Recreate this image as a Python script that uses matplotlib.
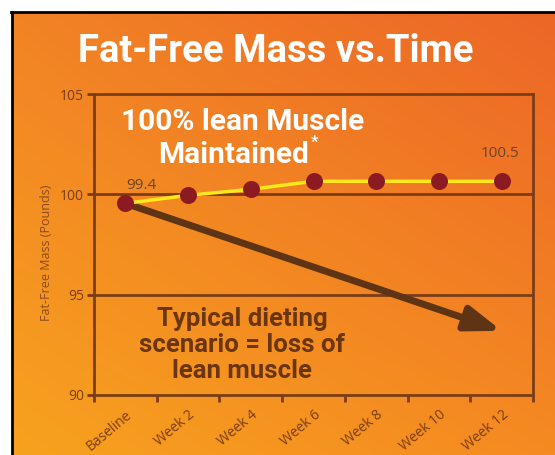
import matplotlib.pyplot as plt
import numpy as np
from matplotlib.lines import Line2D

# chart data
categories = ['Baseline', 'Week 2', 'Week 4', 'Week 6', 'Week 8', 'Week 10', 'Week 12']
lean_mass = [99.55, 99.95, 100.25, 100.65, 100.65, 100.65, 100.65]
label_index = [0, 6]
label_text = ['99.4', '100.5']
diet_start = 99.55
diet_end = 93.2
yticks = [90, 95, 100, 105]

W, H = 555, 455
brown = '#7a3d17'
narrow = ['Roboto', 'DejaVu Sans']
body = ['Open Sans', 'DejaVu Sans']

fig = plt.figure(figsize=(W / 100, H / 100), dpi=100, facecolor='white')

# orange gradient panel
bg = fig.add_axes([12 / W, 0, 1 - 12 / W, 1 - 12 / H])
tl = np.array([0xf2, 0x83, 0x25]) / 255
tr = np.array([0xec, 0x66, 0x27]) / 255
bl = np.array([0xf7, 0xa2, 0x1e]) / 255
br = np.array([0xf5, 0x8a, 0x22]) / 255
u = np.linspace(0, 1, 200)[None, :, None]
v = np.linspace(0, 1, 200)[:, None, None]
img = (1 - v) * ((1 - u) * tl + u * tr) + v * ((1 - u) * bl + u * br)
bg.imshow(img, aspect='auto', extent=[0, 1, 0, 1])
bg.axis('off')
fig.add_artist(Line2D([12 / W, 12 / W], [0, 1 - 12 / H], color='black', lw=2))
fig.add_artist(Line2D([11 / W, 1], [1 - 12 / H, 1 - 12 / H], color='black', lw=2))

ax = fig.add_axes([94 / W, 60 / H, 439 / W, 301 / H])
ax.patch.set_alpha(0)
x = np.arange(len(categories))
ax.set_xlim(-0.5, len(categories) - 0.5)
ax.set_ylim(90, 105)

for s in ax.spines.values():
    s.set_color(brown)
    s.set_linewidth(2)
for yv in yticks[1:-1]:
    ax.axhline(yv, color=brown, lw=2, zorder=1)

ax.set_xticks(x)
ax.set_xticklabels(categories, rotation=40, ha='right', rotation_mode='anchor',
                   fontsize=10, color=brown, family=body)
ax.tick_params(axis='x', which='major', length=0, pad=9)
ax.set_xticks(np.arange(-0.5, len(categories)), minor=True)
ax.tick_params(axis='x', which='minor', length=5, width=2, color=brown)
ax.set_yticks(yticks)
ax.set_yticklabels([str(t) for t in yticks], fontsize=10, color=brown, family=body)
ax.tick_params(axis='y', length=5, width=2, color=brown, pad=2)

# typical dieting arrow
ax.annotate('', xy=(x[-1], diet_end), xytext=(x[0], diet_start),
            arrowprops=dict(arrowstyle='-|>,head_length=1.4,head_width=0.5',
                            lw=5, color='#5e3414', shrinkA=0, shrinkB=0,
                            mutation_scale=15), zorder=2)

ax.plot(x, lean_mass, color='#ffe81c', lw=2.5, zorder=3)
ax.scatter(x, lean_mass, s=150, color='#8c1a21', zorder=4, linewidths=0)

offsets = [(11.5, 13), (-1.5, 20)]
for i, t, off in zip(label_index, label_text, offsets):
    ax.annotate(t, (x[i], lean_mass[i]), xytext=off,
                textcoords='offset points', ha='center', va='center',
                fontsize=11, color='#6e4428', family=body)

fig.text(276 / W, 1 - 52 / H, 'Fat-Free Mass vs.Time', ha='center', va='center',
         fontsize=27.5, fontweight='bold', color='white', family=narrow)
fig.text(243 / W, 1 - 122 / H, '100% lean Muscle', ha='center', va='center',
         fontsize=21.5, fontweight='bold', color='white', family=narrow)
maint = fig.text(234 / W, 1 - 155 / H, 'Maintained', ha='center', va='center',
                 fontsize=21.5, fontweight='bold', color='white', family=narrow)
ax.annotate('*', xy=(1.0, 0.95), xycoords=maint, xytext=(1, 0), textcoords='offset points',
            ha='left', va='center', fontsize=12, fontweight='bold', color='white',
            family=narrow, annotation_clip=False)
fig.text(242 / W, 1 - 345 / H, 'Typical dieting\nscenario = loss of\nlean muscle',
         ha='center', va='center', multialignment='center', linespacing=1.1,
         fontsize=18.5, fontweight='bold', color='#6b3510', family=narrow)
fig.text(47 / W, 1 - 253 / H, 'Fat-Free Mass (Pounds)', ha='center', va='center',
         rotation=90, fontsize=9, color='#8a4a1e', family=body)

fig.savefig('out.png', dpi=100)
